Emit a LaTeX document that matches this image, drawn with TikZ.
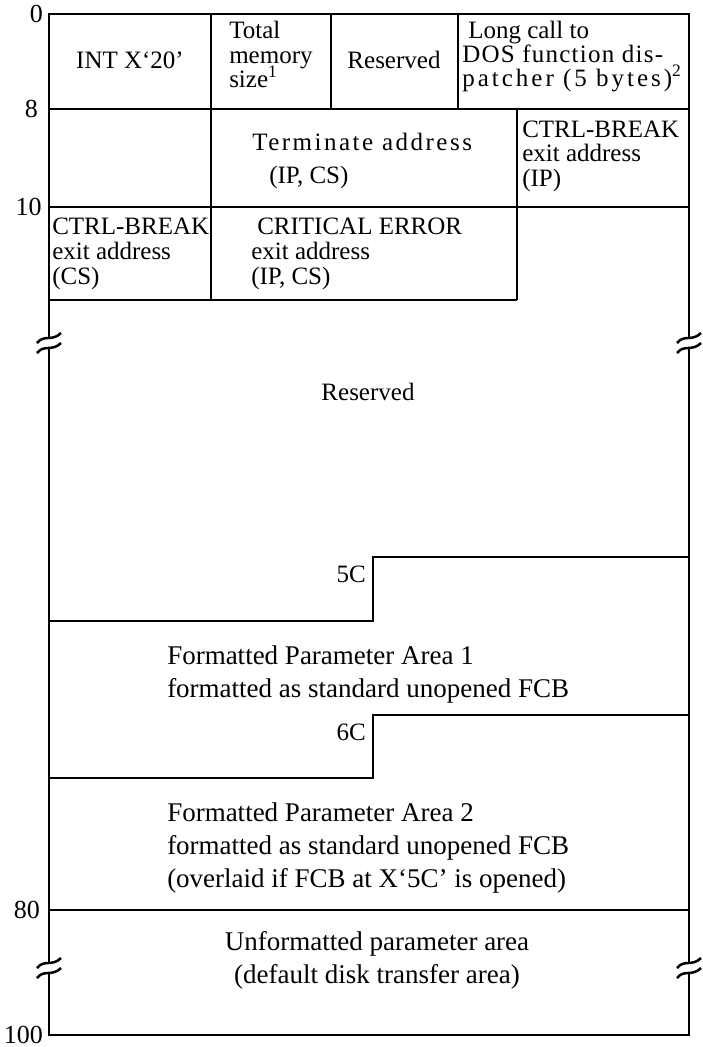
\documentclass[tikz,border=0pt]{standalone}
\usepackage{fontspec}
\setmainfont{Liberation Serif}
\begin{document}
\begin{tikzpicture}[x=1pt,y=-1pt,line width=2.5pt,
  lbl/.style={font=\fontsize{25}{26}\selectfont,inner sep=0pt,anchor=base west},
  lblc/.style={font=\fontsize{25}{26}\selectfont,inner sep=0pt,anchor=base},
  big/.style={font=\fontsize{27}{33}\selectfont,inner sep=0pt,anchor=base west},
  bigc/.style={font=\fontsize{27}{33}\selectfont,inner sep=0pt,anchor=base},
  num/.style={font=\fontsize{26}{28}\selectfont,inner sep=0pt,anchor=east},
  brk/.pic={
    \fill[white] (-4,0) rectangle (4,10);
    \draw[line width=2.5pt] (-12,5) .. controls (-5,-4) and (3,4) .. (12,-5);
    \draw[line width=2.5pt] (-12,15) .. controls (-5,6) and (3,14) .. (12,5);
  }]
\useasboundingbox (0,0) rectangle (703,1047);
% frame and dividers
\draw (49,14) rectangle (689,1035);
\draw (49,109) -- (689,109);
\draw (49,207) -- (689,207);
\draw (49,300) -- (517,300);
\draw (211,14) -- (211,300);
\draw (331,14) -- (331,109);
\draw (458,14) -- (458,109);
\draw (517,109) -- (517,300);
\draw (49,621) -- (373,621) -- (373,557) -- (689,557);
\draw (49,778) -- (373,778) -- (373,715) -- (689,715);
\draw (49,910) -- (689,910);
% break marks
\pic at (49,338) {brk};
\pic at (689,338) {brk};
\pic at (49,963) {brk};
\pic at (689,963) {brk};
% offsets
\node[num] (o0) at (44,14) {0};
\node[num] (o8) at (39,109) {8};
\node[num] (o10) at (43,207) {10};
\node[num] (o80) at (41,910) {80};
\node[num] (o100) at (44,1035) {100};
% row 1
\node[lblc] (int) at (130,68) {INT X‘20’};
\node[lbl] (tm1) at (228,38) {Total};
\node[lbl] (tm2) at (228,63) {memory};
\node[lbl] (tm3) at (228,87) {size\textsuperscript{1}};
\node[lblc] (res1) at (394,68) {Reserved};
\node[lbl] (lc1) at (467,38) {Long call to};
\node[lbl] (lc2) at (461,62) {\addfontfeature{LetterSpace=5}DOS function dis-};
\node[lbl] (lc3) at (461,86) {\addfontfeature{LetterSpace=12}patcher (5 bytes)\textsuperscript{2}};
% row 2
\node[lbl] (ta1) at (251,150) {\addfontfeature{LetterSpace=10}Terminate address};
\node[lbl] (ta2) at (268,183) {(IP, CS)};
\node[lbl] (cb1) at (521,137) {CTRL-BREAK};
\node[lbl] (cb2) at (521,161) {exit address};
\node[lbl] (cb3) at (521,186) {(IP)};
% row 3
\node[lbl] (cc1) at (51,234) {CTRL-BREAK};
\node[lbl] (cc2) at (51,259) {exit address};
\node[lbl] (cc3) at (51,284) {(CS)};
\node[lbl] (ce1) at (256,234) {CRITICAL ERROR};
\node[lbl] (ce2) at (250,259) {exit address};
\node[lbl] (ce3) at (250,284) {(IP, CS)};
% middle
\node[lblc] (res2) at (368,400) {Reserved};
\node[lbl,anchor=base east] (c5) at (367,582) {5C};
\node[lbl,anchor=base east] (c6) at (367,740) {6C};
\node[big] (fa1) at (166,664) {Formatted Parameter Area 1};
\node[big] (fa2) at (166,697) {formatted as standard unopened FCB};
\node[big] (fb1) at (166,821) {Formatted Parameter Area 2};
\node[big] (fb2) at (166,854) {formatted as standard unopened FCB};
\node[big] (fb3) at (166,887) {(overlaid if FCB at X‘5C’ is opened)};
\node[bigc] (un1) at (377,950) {Unformatted parameter area};
\node[bigc] (un2) at (377,983) {(default disk transfer area)};
\end{tikzpicture}
\end{document}
